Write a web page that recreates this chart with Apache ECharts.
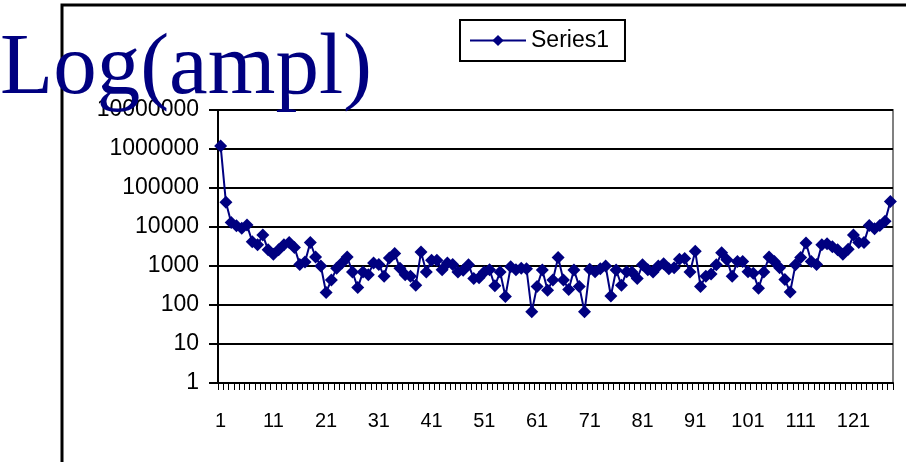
<!DOCTYPE html>
<html>
<head>
<meta charset="utf-8">
<script src="https://cdn.jsdelivr.net/npm/echarts@6/dist/echarts.min.js"></script>
<style>
  html, body { margin: 0; padding: 0; background: #fff; }
  #chart { width: 906px; height: 462px; }
</style>
</head>
<body>
<div id="chart"></div>
<script>
// Sample index 1..128
const categories = Array.from({ length: 128 }, (_, i) => String(i + 1));

// Amplitude per sample (log-scaled on the y axis)
const series1 = [
  1200000, 43000, 13000, 10700, 9300, 11200, 4200, 3500, 6200, 2600,
  2000, 2600, 3500, 4000, 3000, 1100, 1260, 4000, 1700, 1000,
  210, 440, 870, 1200, 1700, 700, 280, 700, 600, 1200,
  1100, 550, 1600, 2100, 870, 600, 550, 320, 2300, 700,
  1400, 1400, 800, 1200, 1100, 700, 780, 1070, 480, 500,
  700, 800, 310, 700, 165, 950, 800, 870, 850, 67,
  300, 790, 240, 440, 1650, 440, 250, 790, 300, 67,
  830, 710, 850, 1000, 170, 790, 320, 710, 700, 480,
  1070, 800, 700, 1000, 1150, 850, 900, 1500, 1550, 700,
  2400, 300, 550, 620, 1070, 2200, 1450, 550, 1300, 1300,
  710, 650, 270, 700, 1700, 1300, 900, 450, 215, 1070,
  1650, 3900, 1300, 1100, 3500, 3700, 3100, 2600, 2000, 2700,
  6200, 4000, 4000, 11000, 9000, 11000, 14000, 45000
];

const seriesName = 'Series1';
const titleText = 'Log(ampl)';

const chart = echarts.init(document.getElementById('chart'));

chart.setOption({
  animation: false,
  backgroundColor: '#ffffff',
  title: {
    text: titleText,
    left: 0,
    top: 27,
    padding: 0,
    textStyle: {
      fontFamily: 'Liberation Serif',
      fontSize: 87,
      fontWeight: 'normal',
      color: '#000080'
    }
  },
  legend: {
    data: [seriesName],
    left: 460,
    top: 20,
    padding: [9, 16, 9, 9],
    borderColor: '#000000',
    borderWidth: 2,
    itemWidth: 56,
    itemHeight: 14,
    itemGap: 6,
    textStyle: {
      fontFamily: 'Liberation Sans',
      fontSize: 23,
      color: '#000000'
    }
  },
  grid: {
    left: 218,
    top: 110,
    width: 675,
    height: 273,
    show: true,
    borderColor: '#808080',
    borderWidth: 2,
    backgroundColor: 'transparent'
  },
  xAxis: {
    type: 'category',
    data: categories,
    boundaryGap: true,
    axisLine: { show: true, lineStyle: { color: '#000000', width: 2 } },
    axisTick: {
      show: true,
      inside: false,
      interval: 0,
      length: 7,
      lineStyle: { color: '#000000', width: 1 }
    },
    axisLabel: {
      interval: 9,
      margin: 28,
      fontFamily: 'Liberation Sans',
      fontSize: 20,
      color: '#000000'
    },
    splitLine: { show: false }
  },
  yAxis: {
    type: 'log',
    logBase: 10,
    min: 1,
    max: 10000000,
    axisLine: { show: true, lineStyle: { color: '#000000', width: 2 } },
    axisTick: { show: true, length: 9, lineStyle: { color: '#000000', width: 2 } },
    axisLabel: {
      margin: 19,
      fontFamily: 'Liberation Sans',
      fontSize: 23,
      color: '#000000',
      formatter: v => String(Math.round(v))
    },
    splitLine: { show: true, lineStyle: { color: '#000000', width: 2 } },
    minorTick: { show: false }
  },
  series: [{
    name: seriesName,
    type: 'line',
    data: series1,
    symbol: 'diamond',
    symbolSize: 13,
    showAllSymbol: true,
    lineStyle: { color: '#000080', width: 2 },
    itemStyle: { color: '#000080' }
  }],
  graphic: [
    {
      type: 'polyline',
      shape: { points: [[62, 462], [62, 5], [906, 5]] },
      style: { stroke: '#000000', lineWidth: 3, fill: null },
      z: 0,
      silent: true
    }
  ]
});
</script>
</body>
</html>
